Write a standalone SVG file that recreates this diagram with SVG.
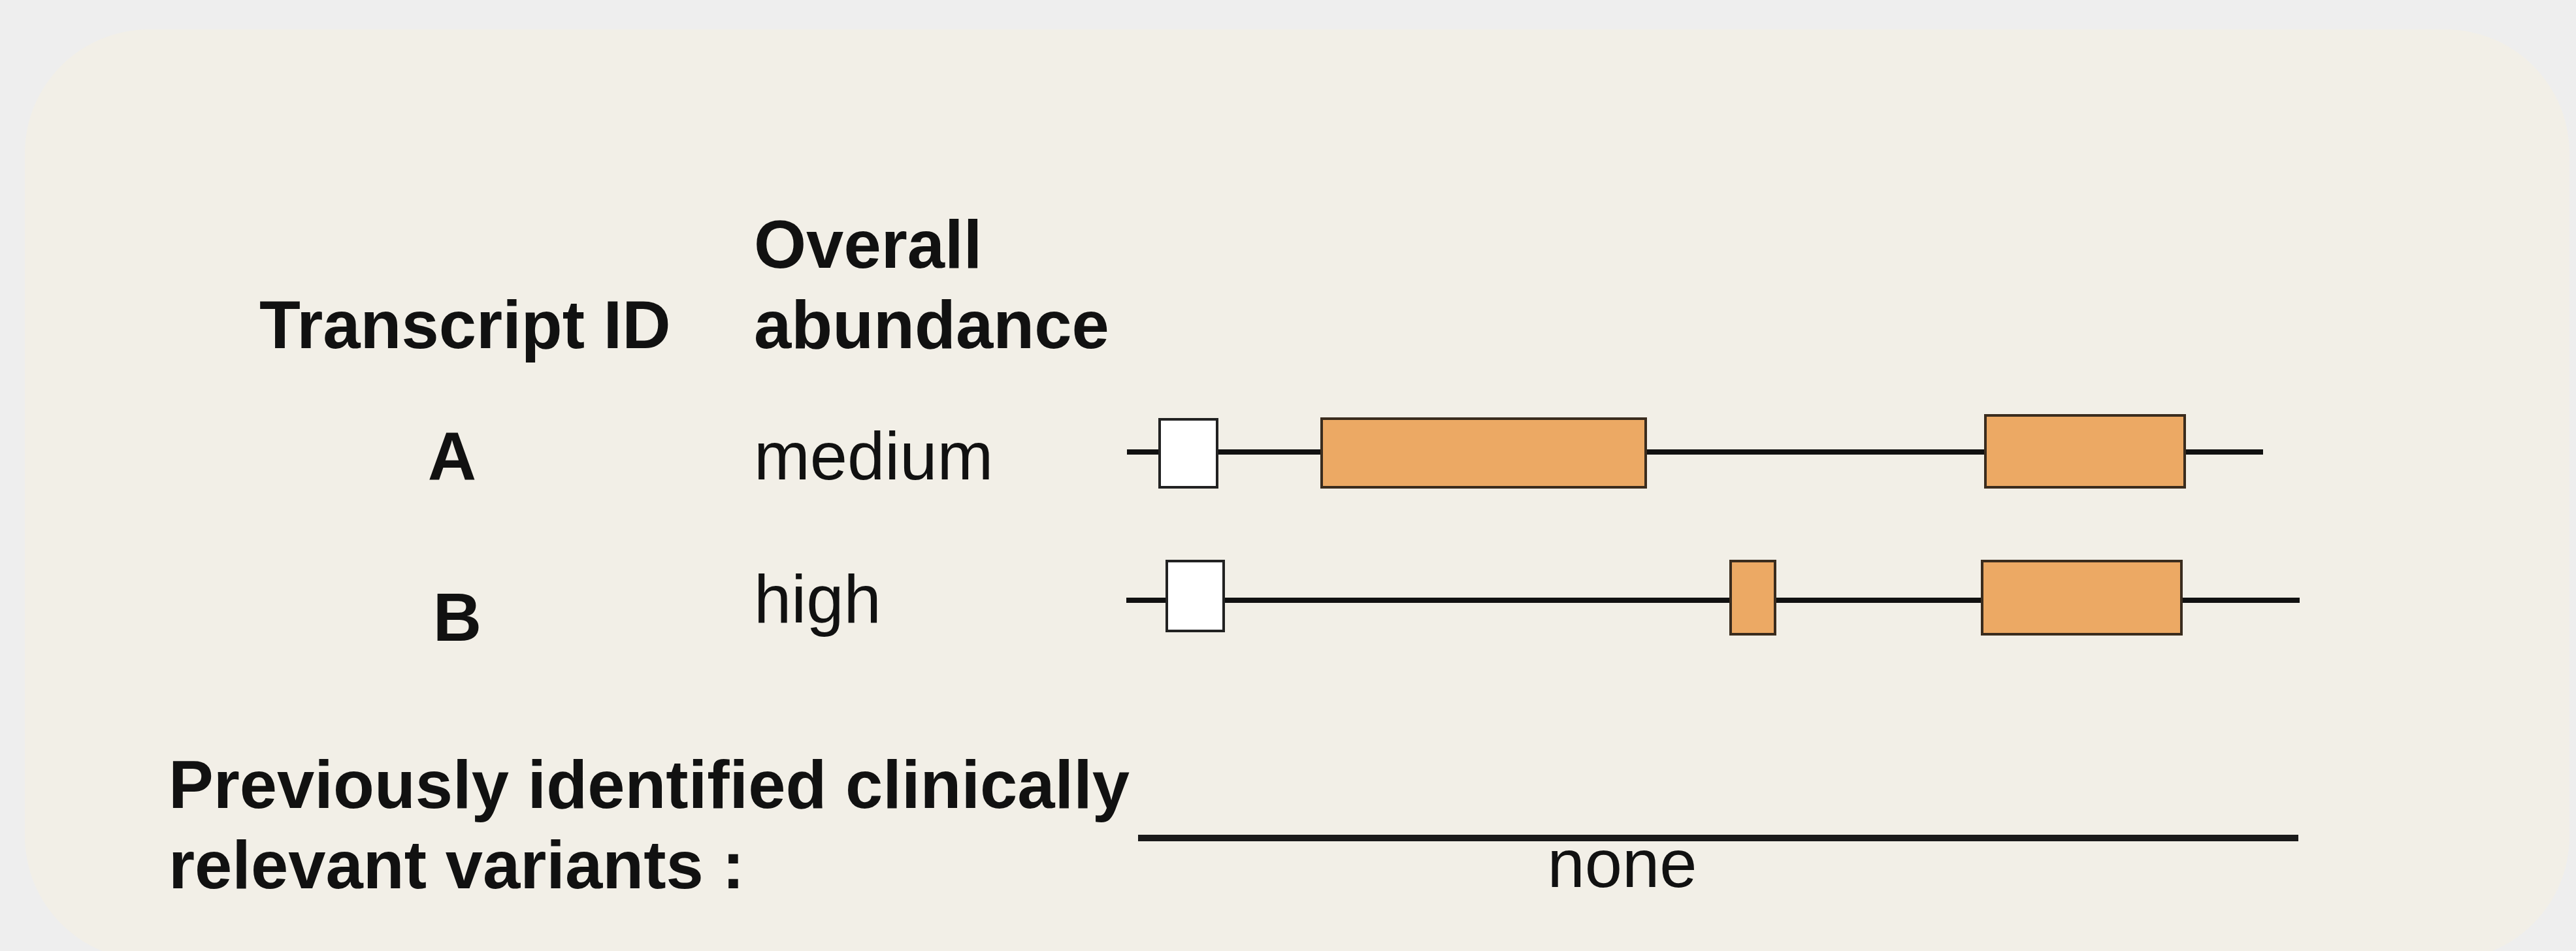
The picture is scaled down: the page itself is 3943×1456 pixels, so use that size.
<svg xmlns="http://www.w3.org/2000/svg" width="3943" height="1456" viewBox="0 0 3943 1456">
<style>
text{font-family:"Liberation Sans",Arial,sans-serif;font-size:103px;fill:#111}
.b{font-weight:bold}
.intron{stroke:#111;stroke-width:8;stroke-linecap:butt}
.utr{fill:#ffffff;stroke:#222;stroke-width:4}
.exon{fill:#ECA964;stroke:#3a2c1e;stroke-width:4}
</style>
<rect x="0" y="0" width="3943" height="1456" fill="#eeeeee"/>
<rect id="panel" x="38" y="45" width="3895" height="1425" rx="190" ry="190" fill="#f2efe7"/>
<g id="headers">
<text class="b" x="397" y="533">Transcript ID</text>
<text class="b" x="1154" y="410">Overall</text>
<text class="b" x="1154" y="533">abundance</text>
</g>
<g id="row-A">
<text class="b" x="692" y="734" text-anchor="middle">A</text>
<text x="1154" y="734">medium</text>
<line class="intron" x1="1725" y1="692" x2="3464" y2="692"/>
<rect class="utr" x="1775" y="642" width="88" height="104"/>
<rect class="exon" x="2023" y="641" width="496" height="105"/>
<rect class="exon" x="3039" y="636" width="305" height="110"/>
</g>
<g id="row-B">
<text class="b" x="700" y="981" text-anchor="middle">B</text>
<text x="1154" y="953">high</text>
<line class="intron" x1="1724" y1="919" x2="3520" y2="919"/>
<rect class="utr" x="1786" y="859" width="87" height="107"/>
<rect class="exon" x="2649" y="859" width="68" height="112"/>
<rect class="exon" x="3034" y="859" width="305" height="112"/>
</g>
<g id="variants">
<text class="b" x="258" y="1237">Previously identified clinically</text>
<text class="b" x="258" y="1360">relevant variants :</text>
<line x1="1742" y1="1283" x2="3518" y2="1283" stroke="#1a1a1a" stroke-width="10"/>
<text x="2483" y="1358" text-anchor="middle" font-size="101">none</text>
</g>
</svg>
